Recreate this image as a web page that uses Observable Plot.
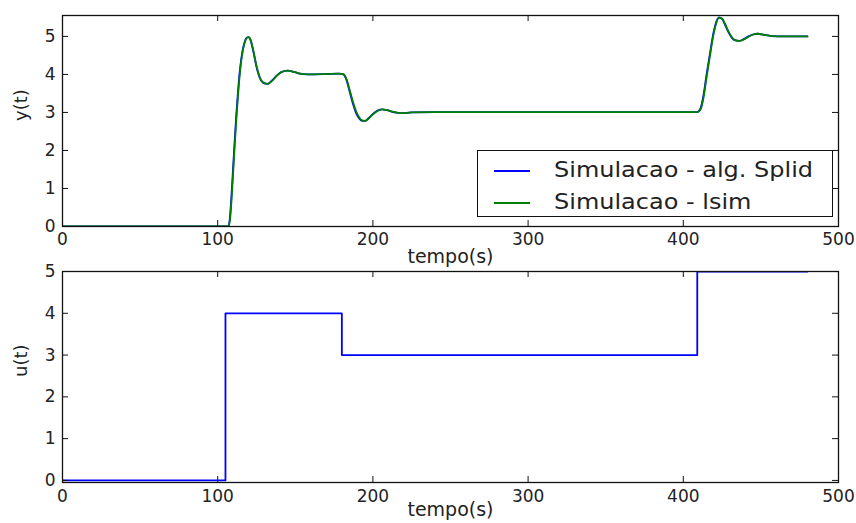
<!DOCTYPE html>
<html>
<head>
<meta charset="utf-8">
<script src="https://cdn.jsdelivr.net/npm/d3@7"></script>
<script src="https://cdn.jsdelivr.net/npm/@observablehq/plot@0.6"></script>
<style>
  html, body { margin: 0; padding: 0; background: white; }
  #wrap { position: relative; width: 856px; height: 523px; font-family: "DejaVu Sans", sans-serif; }
  #wrap svg { position: absolute; left: 0; }
  #legend { position: absolute; left: 477px; top: 150px; width: 356px; height: 67px; border: 1px solid #111; background: white; box-sizing: border-box; }
  .row { position: absolute; left: 0; height: 30px; width: 100%; }
  .row .sw { position: absolute; left: 16px; width: 36px; top: 50%; height: 0; border-top: 2px solid; }
  .row .lb { position: absolute; left: 76px; top: 50%; transform-origin: left center; transform: translateY(-52%) scaleX(1.09); font-size: 22px; color: #222; white-space: nowrap; }
</style>
</head>
<body>
<div id="wrap"></div>
<script>
// ---- data ----
const time = [0,107,108,109,110,111,112,113,114,115,116,117,118,119,120,121,123,125,127,129,132,135,138,141,145,149,153,158,170,178,181,183,185,187,189,191,193,195,197,200,203,206,209,213,218,225,240,300,409,411,413,415,417,419,421,423,425,427,429,431,433,436,439,442,445,448,452,457,465,480];
const ySplid = [0,0,0.3,0.9,1.6,2.3,2.95,3.5,4.0,4.35,4.62,4.8,4.92,4.97,4.98,4.92,4.6,4.2,3.92,3.79,3.75,3.84,3.97,4.06,4.1,4.07,4.02,4.0,4.01,4.02,4.0,3.85,3.55,3.25,3.0,2.85,2.78,2.78,2.84,2.96,3.05,3.08,3.06,3.01,2.98,3.0,3.01,3.01,3.01,3.1,3.45,4.0,4.5,5.0,5.35,5.5,5.46,5.3,5.12,4.98,4.9,4.88,4.93,5.0,5.05,5.07,5.04,5.01,5.0,5.0];
const yLsim = [0,0,0.2,0.75,1.45,2.15,2.8,3.4,3.9,4.3,4.58,4.78,4.91,4.97,4.98,4.93,4.62,4.22,3.94,3.8,3.75,3.83,3.96,4.06,4.1,4.07,4.02,4.0,4.01,4.02,4.01,3.88,3.6,3.3,3.05,2.88,2.79,2.78,2.83,2.95,3.04,3.08,3.06,3.02,2.98,3.0,3.01,3.01,3.01,3.07,3.38,3.92,4.44,4.95,5.32,5.49,5.47,5.32,5.14,5.0,4.91,4.88,4.92,4.99,5.05,5.07,5.04,5.01,5.0,5.0];
const uTime = [0,105,180,409,480];
const uValue = [0,4,3,5,5];
const xTicks = [0,100,200,300,400,500];
const yTicksTop = [0,1,2,3,4,5];
const yTicksBottom = [0,1,2,3,4,5];
const seriesNames = ["Simulacao - alg. Splid", "Simulacao - lsim"];
const seriesColors = ["#0000ff", "#008000"];
const xLabel = "tempo(s)";
const yLabelTop = "y(t)";
const yLabelBottom = "u(t)";

const W = 856;
const ML = 62, MR = 18;
const innerW = W - ML - MR;
const TICK = 6;

function insideTicks(xt, yt, innerH) {
  return [
    Plot.tickX(xt, {x: d => d, insetTop: innerH - TICK, stroke: "#111"}),
    Plot.tickX(xt, {x: d => d, insetBottom: innerH - TICK, stroke: "#111"}),
    Plot.tickY(yt, {y: d => d, insetRight: innerW - TICK, stroke: "#111"}),
    Plot.tickY(yt, {y: d => d, insetLeft: innerW - TICK, stroke: "#111"})
  ];
}

const ptsSplid = time.map((t, i) => ({t, v: ySplid[i]}));
const ptsLsim = time.map((t, i) => ({t, v: yLsim[i]}));
const uPts = uTime.map((t, i) => ({t, v: uValue[i]}));

// ---- top plot ----
const topH = 275, topMT = 15, topMB = 49;
const topInnerH = topH - topMT - topMB;
const chartTop = Plot.plot({
  width: W, height: topH,
  marginLeft: ML, marginRight: MR, marginTop: topMT, marginBottom: topMB,
  style: {background: "transparent", fontFamily: "DejaVu Sans, sans-serif", color: "#222", overflow: "visible"},
  x: {domain: [0, 500], ticks: xTicks, tickSize: 0, tickPadding: 6, label: null, tickFormat: d3.format("d")},
  y: {domain: [0, 5.55], ticks: yTicksTop, tickSize: 0, tickPadding: 7, label: null, tickFormat: d3.format("d")},
  marks: [
    Plot.lineY(ptsSplid, {x: "t", y: "v", stroke: seriesColors[0], strokeWidth: 1.8, curve: "monotone-x", clip: true}),
    Plot.lineY(ptsLsim, {x: "t", y: "v", stroke: seriesColors[1], strokeWidth: 1.8, curve: "monotone-x", clip: true}),
    ...insideTicks(xTicks, yTicksTop, topInnerH),
    Plot.frame({stroke: "#111", strokeWidth: 1.3}),
    Plot.text([xLabel], {text: d => d, frameAnchor: "bottom", dy: 36, fontSize: 19, fill: "#222"}),
    Plot.text([yLabelTop], {text: d => d, frameAnchor: "left", dx: -41, rotate: -90, fontSize: 18, fill: "#222"})
  ]
});
chartTop.style.top = "0px";
chartTop.querySelectorAll("g[aria-label='x-axis tick label'], g[aria-label='y-axis tick label']").forEach(g => g.setAttribute("font-size", "17"));

// ---- bottom plot ----
const botH = 273, botMT = 21, botMB = 41;
const botInnerH = botH - botMT - botMB;
const chartBottom = Plot.plot({
  width: W, height: botH,
  marginLeft: ML, marginRight: MR, marginTop: botMT, marginBottom: botMB,
  style: {background: "transparent", fontFamily: "DejaVu Sans, sans-serif", color: "#222", overflow: "visible"},
  x: {domain: [0, 500], ticks: xTicks, tickSize: 0, tickPadding: 7, label: null, tickFormat: d3.format("d")},
  y: {domain: [-0.05, 5], ticks: yTicksBottom, tickSize: 0, tickPadding: 7, label: null, tickFormat: d3.format("d")},
  marks: [
    Plot.lineY(uPts, {x: "t", y: "v", stroke: seriesColors[0], strokeWidth: 1.8, curve: "step-after", clip: true}),
    ...insideTicks(xTicks, yTicksBottom, botInnerH),
    Plot.frame({stroke: "#111", strokeWidth: 1.3}),
    Plot.text([xLabel], {text: d => d, frameAnchor: "bottom", dy: 33, fontSize: 19, fill: "#222"}),
    Plot.text([yLabelBottom], {text: d => d, frameAnchor: "left", dx: -41, rotate: -90, fontSize: 18, fill: "#222"})
  ]
});
chartBottom.style.top = "250px";
chartBottom.querySelectorAll("g[aria-label='x-axis tick label'], g[aria-label='y-axis tick label']").forEach(g => g.setAttribute("font-size", "17"));

const wrap = document.getElementById("wrap");
wrap.appendChild(chartTop);
wrap.appendChild(chartBottom);

// ---- legend ----
const legend = document.createElement("div");
legend.id = "legend";
seriesNames.forEach((name, i) => {
  const row = document.createElement("div");
  row.className = "row";
  row.style.top = (4 + i * 32) + "px";
  const sw = document.createElement("div");
  sw.className = "sw";
  sw.style.borderTopColor = seriesColors[i];
  const lb = document.createElement("div");
  lb.className = "lb";
  lb.textContent = name;
  row.appendChild(sw);
  row.appendChild(lb);
  legend.appendChild(row);
});
wrap.appendChild(legend);
</script>
</body>
</html>
